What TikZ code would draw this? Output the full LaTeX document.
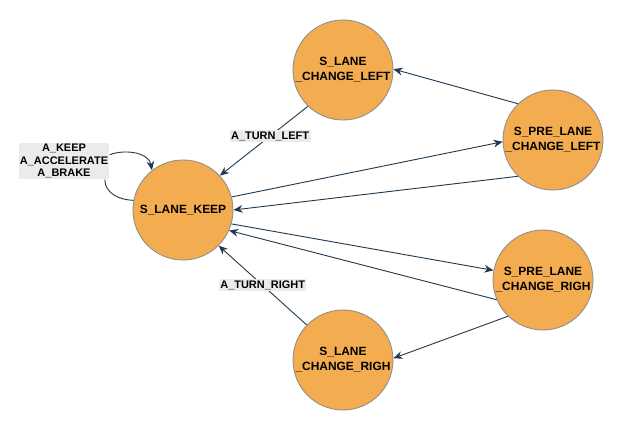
\documentclass[tikz,border=0pt]{standalone}
\usepackage{fontspec}
\setmainfont{Liberation Sans}
\usetikzlibrary{arrows.meta}
\definecolor{stateorange}{HTML}{F4AC50}
\definecolor{stateedge}{HTML}{8C8C8C}
\definecolor{arrowblue}{HTML}{213A4F}
\definecolor{labelgray}{HTML}{EBEBEB}
\begin{document}
\begin{tikzpicture}[line join=round, >={Stealth[length=6.5pt,width=5.5pt]}, x=0.025cm, y=-0.025cm]
	\tikzset{state/.style={circle,draw=stateedge,line width=0.6pt,fill=stateorange,minimum size=2.5cm,inner sep=0pt,align=center,font=\bfseries\fontsize{8.5}{10.6}\selectfont}}
	\tikzset{act/.style={fill=labelgray,inner sep=1pt,align=center,font=\bfseries\fontsize{7.8}{8.9}\selectfont}}
	\tikzset{move/.style={->,draw=arrowblue,line width=0.65pt}}
	\useasboundingbox (0,0) rectangle (625,431);
	\node[state] (keep) at (183,210) {S\_LANE\_KEEP};
	\node[state] (cl) at (343,70) {S\_LANE\\\_CHANGE\_LEFT};
	\node[state] (pcl) at (553,140) {S\_PRE\_LANE\\\_CHANGE\_LEFT};
	\node[state] (pcr) at (543,280) {S\_PRE\_LANE\\\_CHANGE\_RIGH};
	\node[state] (cr) at (343,360) {S\_LANE\\\_CHANGE\_RIGH};
	\node[act] (keepacts) at (64,161) {A\_KEEP\\A\_ACCELERATE\\A\_BRAKE};
	\draw[arrowblue,line width=0.65pt] (keep.169) to[out=178,in=-90] ([xshift=-3.5pt]keepacts.south east);
	\draw[move] ([yshift=4.5pt]keepacts.east) to[out=20,in=100] (keep.128);
	\draw[move] (cl.226) -- node[act,pos=0.43] {A\_TURN\_LEFT} (keep.43);
	\draw[move] (pcl.134) -- (cl.1);
	\draw[move] (keep.15) -- (pcl.182);
	\draw[move] (pcl.226) -- (keep.0);
	\draw[move] (keep.-16) -- (pcr.169);
	\draw[move] (pcr.203) -- (keep.-24);
	\draw[move] (pcr.226) -- (cr.2);
	\draw[move] (cr.136) -- node[act,pos=0.5] {A\_TURN\_RIGHT} (keep.-45);
\end{tikzpicture}
\end{document}
